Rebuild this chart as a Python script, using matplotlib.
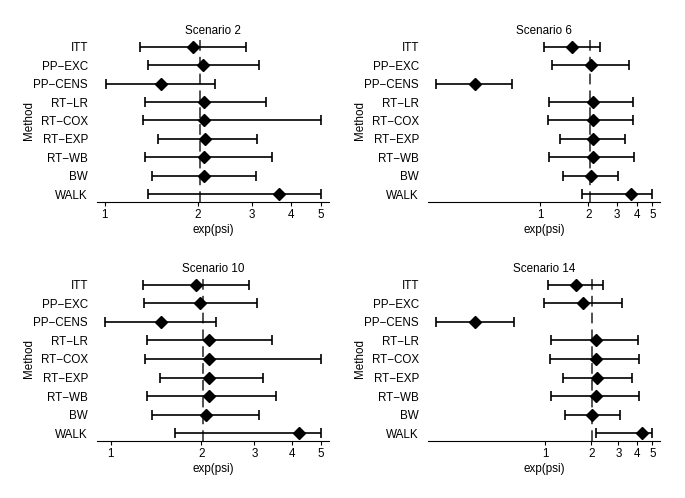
import matplotlib
matplotlib.use("Agg")
import matplotlib.pyplot as plt
from matplotlib.ticker import NullLocator

plt.rcParams['font.family'] = ['Liberation Sans', 'DejaVu Sans']

methods = ["ITT", "PP\u2212EXC", "PP\u2212CENS", "RT\u2212LR", "RT\u2212COX",
           "RT\u2212EXP", "RT\u2212WB", "BW", "WALK"]
scenarios = ["Scenario 2", "Scenario 6", "Scenario 10", "Scenario 14"]
true_value = 2.03

# point estimates and interval ends, one list per scenario, in method order
est_s2 = [1.93, 2.08, 1.52, 2.10, 2.10, 2.11, 2.10, 2.10, 3.66]
low_s2 = [1.30, 1.38, 1.01, 1.35, 1.33, 1.49, 1.35, 1.42, 1.38]
high_s2 = [2.86, 3.15, 2.28, 3.32, 5.00, 3.12, 3.47, 3.09, 5.00]

est_s6 = [1.59, 2.07, 0.39, 2.13, 2.12, 2.13, 2.13, 2.07, 3.67]
low_s6 = [1.06, 1.19, 0.225, 1.13, 1.12, 1.33, 1.13, 1.38, 1.82]
high_s6 = [2.36, 3.58, 0.67, 3.81, 3.81, 3.40, 3.83, 3.07, 5.00]

est_s10 = [1.92, 1.98, 1.47, 2.12, 2.12, 2.12, 2.12, 2.07, 4.21]
low_s10 = [1.28, 1.29, 0.96, 1.32, 1.30, 1.46, 1.32, 1.37, 1.63]
high_s10 = [2.89, 3.06, 2.24, 3.43, 5.00, 3.20, 3.53, 3.12, 5.00]

est_s14 = [1.58, 1.76, 0.347, 2.15, 2.15, 2.17, 2.15, 2.03, 4.26]
low_s14 = [1.05, 0.98, 0.195, 1.09, 1.07, 1.30, 1.09, 1.34, 2.13]
high_s14 = [2.40, 3.17, 0.622, 4.05, 4.09, 3.67, 4.11, 3.08, 5.00]

xlims = [(0.944, 5.32), (0.20, 5.58), (0.90, 5.31), (0.172, 5.61)]
all_data = [(est_s2, low_s2, high_s2), (est_s6, low_s6, high_s6),
            (est_s10, low_s10, high_s10), (est_s14, low_s14, high_s14)]

W, H = 685, 498
fig = plt.figure(figsize=(W / 100, H / 100), dpi=100)

# axes boxes in pixels: left, top, right, bottom
boxes = [(97, 38, 329, 202), (428, 38, 660, 202),
         (97, 276, 329, 441), (428, 276, 660, 441)]

fs = 8.4
rows = list(range(1, len(methods) + 1))
for (l, t, r, b), title, (est, lo, hi), xl in zip(boxes, scenarios, all_data, xlims):
    ax = fig.add_axes([l / W, 1 - b / H, (r - l) / W, (b - t) / H])
    ax.set_xscale('log')
    err = [[e - a for e, a in zip(est, lo)], [c - e for e, c in zip(est, hi)]]
    ax.errorbar(est, rows, xerr=err, fmt='D', color='black', ms=6.5,
                elinewidth=1.2, capsize=3.5, capthick=1.2, zorder=3)
    ax.axvline(true_value, color='#222222', ls=(0, (7, 4)), lw=1.1, zorder=2)
    ax.set_ylim(len(methods) + 0.42, 0.53)
    ax.set_xlim(*xl)
    ax.set_yticks(rows)
    ax.set_yticklabels(methods, fontsize=fs)
    ax.tick_params(axis='y', length=0, pad=6.5)
    ax.set_xticks([1, 2, 3, 4, 5])
    ax.set_xticklabels(['1', '2', '3', '4', '5'], fontsize=fs)
    ax.xaxis.set_minor_locator(NullLocator())
    ax.tick_params(axis='x', length=3, width=0.8, pad=2)
    for s in ['top', 'right', 'left']:
        ax.spines[s].set_visible(False)
    ax.spines['bottom'].set_linewidth(0.8)
    ax.set_xlabel('exp(psi)', fontsize=fs, labelpad=2)
    ax.set_ylabel('Method', fontsize=fs)
    ax.yaxis.set_label_coords(-0.268, 0.5)
    ax.set_title(title, fontsize=fs, pad=3)

fig.savefig('out.png', dpi=100)
